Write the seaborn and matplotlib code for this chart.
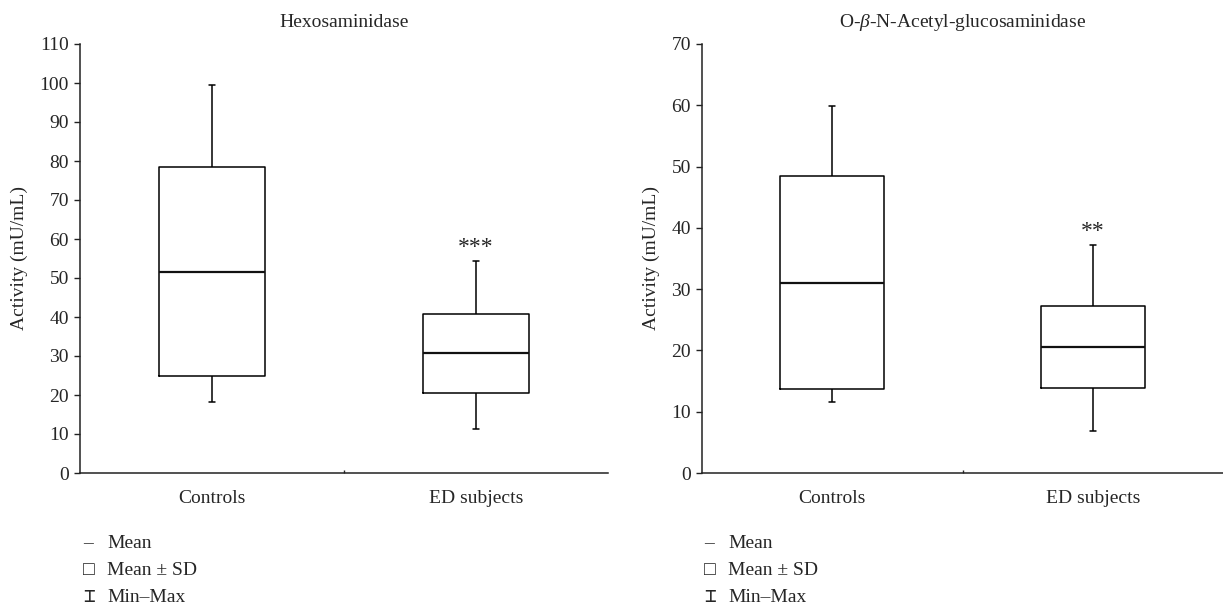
import pandas as pd
import seaborn as sns
import matplotlib.pyplot as plt

# values (min, mean-SD, mean, mean+SD, max)
groups = ["Controls", "ED subjects"]

hex_min = [18.2, 11.3]
hex_lo = [24.8, 20.4]
hex_mean = [51.5, 30.7]
hex_hi = [78.4, 40.8]
hex_max = [99.6, 54.3]
hex_stars = ["", "***"]

ogl_min = [11.6, 6.8]
ogl_lo = [13.7, 13.95]
ogl_mean = [31.0, 20.6]
ogl_hi = [48.5, 27.3]
ogl_max = [59.9, 37.2]
ogl_stars = ["", "**"]

hex_ticks = list(range(0, 111, 10))
ogl_ticks = list(range(0, 71, 10))

sns.set_style("white")
plt.rcParams['font.family'] = ['Liberation Serif', 'DejaVu Sans', 'DejaVu Sans Mono']
plt.rcParams['mathtext.fontset'] = 'custom'
plt.rcParams['mathtext.it'] = 'Liberation Serif:italic'
plt.rcParams['mathtext.rm'] = 'Liberation Serif'


def make_frame(mn, lo, me, hi, mx):
    # 5 points per group so that the box = mean +/- SD, median = mean, whiskers = min/max
    rows = []
    for g, a, b, c, d, e in zip(groups, mn, lo, me, hi, mx):
        for v in (a, b, c, d, e):
            rows.append({"group": g, "value": v})
    return pd.DataFrame(rows)


fig = plt.figure(figsize=(12.23, 6.05), dpi=100)
ax1 = fig.add_axes([80 / 1223, 132 / 605, 528 / 1223, 429 / 605])
ax2 = fig.add_axes([702 / 1223, 132 / 605, 521 / 1223, 429 / 605])

panels = [
    (ax1, make_frame(hex_min, hex_lo, hex_mean, hex_hi, hex_max), hex_max, hex_stars,
     hex_ticks, "Hexosaminidase"),
    (ax2, make_frame(ogl_min, ogl_lo, ogl_mean, ogl_hi, ogl_max), ogl_max, ogl_stars,
     ogl_ticks, r"O-$\it{\beta}$-N-Acetyl-glucosaminidase"),
]

for ax, df, mx, stars, ticks, title in panels:
    sns.boxplot(data=df, x="group", y="value", order=groups, ax=ax,
                whis=(0, 100), width=0.40, fill=False, color="black",
                linecolor="#222222", linewidth=1.1, showfliers=False,
                medianprops={"linewidth": 1.6, "color": "#111111"},
                capwidths=0.022)
    for i, s in enumerate(stars):
        if s:
            ax.annotate(s, (i, mx[i]), xytext=(0, 10), textcoords="offset points",
                        ha="center", va="center", fontsize=17)
    ax.set_xlim(-0.5, 1.5)
    ax.set_ylim(0, ticks[-1])
    ax.set_yticks(ticks)
    ax.set_xlabel("")
    ax.set_ylabel("Activity (mU/mL)", fontsize=14, labelpad=8)
    ax.set_title(title, fontsize=14, pad=12)
    sns.despine(ax=ax)
    for sp in ["left", "bottom"]:
        ax.spines[sp].set_linewidth(1.1)
        ax.spines[sp].set_color("#222222")
    ax.tick_params(axis="y", direction="out", length=4, width=1, left=True,
                   labelsize=14, pad=4, color="#222222")
    ax.tick_params(axis="x", length=0, labelsize=14, pad=12)
    ax.set_xticks([0.5], minor=True)
    ax.tick_params(axis="x", which="minor", direction="in", length=2, width=1,
                   bottom=True)

# legends under each panel
for x0 in (83 / 1223, 704 / 1223):
    for k, (sym, txt) in enumerate([("–", "Mean"), ("□", "Mean ± SD"), ("⌶", "Min–Max")]):
        y = (605 - 544 - 26.5 * k) / 605
        fig.text(x0, y, sym, ha="left", va="center", fontsize=14,
                 family=['Liberation Serif', 'DejaVu Sans', 'DejaVu Sans Mono'])
        fig.text(x0 + 24 / 1223, y, txt, ha="left", va="center", fontsize=14)

fig.savefig("out.png", dpi=100)
